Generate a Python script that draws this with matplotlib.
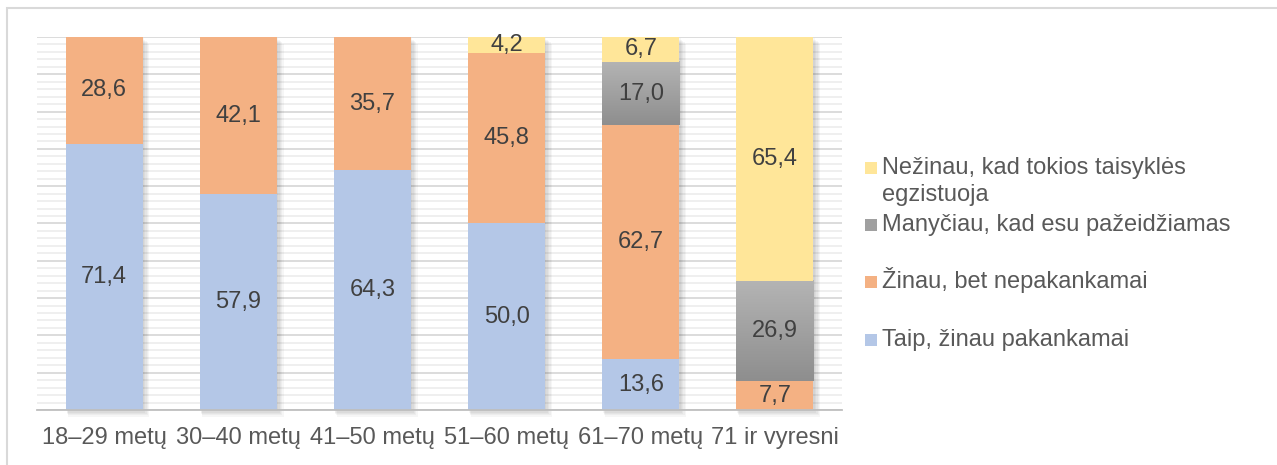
import matplotlib.pyplot as plt
import numpy as np
from matplotlib.patches import Rectangle
from matplotlib.colors import LinearSegmentedColormap

plt.rcParams['font.family'] = ['Liberation Sans', 'DejaVu Sans']

groups = ["18–29 metų", "30–40 metų", "41–50 metų", "51–60 metų", "61–70 metų", "71 ir vyresni"]
taip = [71.4, 57.9, 64.3, 50.0, 13.6, 0.0]
zinau_bet = [28.6, 42.1, 35.7, 45.8, 62.7, 7.7]
manyciau = [0.0, 0.0, 0.0, 0.0, 17.0, 26.9]
nezinau = [0.0, 0.0, 0.0, 4.2, 6.7, 65.4]

series = [
    ("Taip, žinau pakankamai", taip, "#b4c7e7"),
    ("Žinau, bet nepakankamai", zinau_bet, "#f4b183"),
    ("Manyčiau, kad esu pažeidžiamas", manyciau, "gradient"),
    ("Nežinau, kad tokios taisyklės\negzistuoja", nezinau, "#ffe699"),
]

W, H = 1277, 465
fig = plt.figure(figsize=(W / 100, H / 100), dpi=100)
ax = fig.add_axes([37 / W, (H - 410) / H, (842 - 37) / W, 373 / H])

# outer frame (right and bottom edges fall outside the image)
fig.patches.append(Rectangle((7 / W, -0.2), 1.2, 1.2 - 8 / H, transform=fig.transFigure,
                             fill=False, edgecolor="#d9d9d9", linewidth=1.5))

x = np.arange(len(groups))
width = 0.575
grey = LinearSegmentedColormap.from_list("g", ["#8e8e8e", "#b4b4b4"])

# soft shadow behind bars
for k in range(1, 6):
    for xi in x:
        ax.add_patch(Rectangle((xi - width / 2 + k * 0.004, -k * 0.35), width + k * 0.006, 100,
                               color="black", alpha=0.035, zorder=1.5, clip_on=False, lw=0))

bottom = np.zeros(len(groups))
for name, vals, col in series:
    vals = np.array(vals)
    if col == "gradient":
        for xi, b, v in zip(x, bottom, vals):
            if v > 0:
                ax.imshow(np.linspace(0, 1, 100).reshape(-1, 1), cmap=grey, origin="lower",
                          extent=(xi - width / 2, xi + width / 2, b, b + v), aspect="auto", zorder=2)
    else:
        ax.bar(x, vals, width, bottom=bottom, color=col, zorder=2, linewidth=0)
    for xi, b, v in zip(x, bottom, vals):
        if v > 0:
            ax.text(xi, b + v / 2, f"{v:.1f}".replace(".", ","), ha="center", va="center",
                    fontsize=17, color="#404040", zorder=3)
    bottom += vals

ax.set_xlim(-0.5, 5.5)
ax.set_ylim(0, 100)
ax.set_yticks(np.arange(0, 101, 10))
ax.set_yticks(np.arange(0, 101, 2), minor=True)
ax.grid(axis="y", which="major", color="#d9d9d9", linewidth=1.3, zorder=0)
ax.grid(axis="y", which="minor", color="#eeeeee", linewidth=1.3, zorder=0)
ax.set_axisbelow(True)
ax.tick_params(axis="y", which="both", left=False, labelleft=False)
ax.set_xticks(x)
ax.set_xticklabels(groups, fontsize=17, color="#595959")
ax.tick_params(axis="x", length=0, pad=12)
for s in ["top", "left", "right"]:
    ax.spines[s].set_visible(False)
ax.spines["bottom"].set_color("#bfbfbf")
ax.spines["bottom"].set_linewidth(1.3)

# legend: square at first-line baseline
legend_items = [
    ("Nežinau, kad tokios taisyklės\negzistuoja", "#ffe699", 174),
    ("Manyčiau, kad esu pažeidžiamas", "#a0a0a0", 231),
    ("Žinau, bet nepakankamai", "#f4b183", 288),
    ("Taip, žinau pakankamai", "#b4c7e7", 346),
]
for label, col, base in legend_items:
    fig.patches.append(Rectangle((865 / W, (H - base) / H), 12 / W, 12 / H,
                                 transform=fig.transFigure, color=col, lw=0))
    nlines = label.count("\n")
    fig.text(882 / W, (H - base - 27 * nlines) / H, label, fontsize=17, color="#595959",
             ha="left", va="baseline", linespacing=1.27)

fig.savefig("out.png", dpi=100)
